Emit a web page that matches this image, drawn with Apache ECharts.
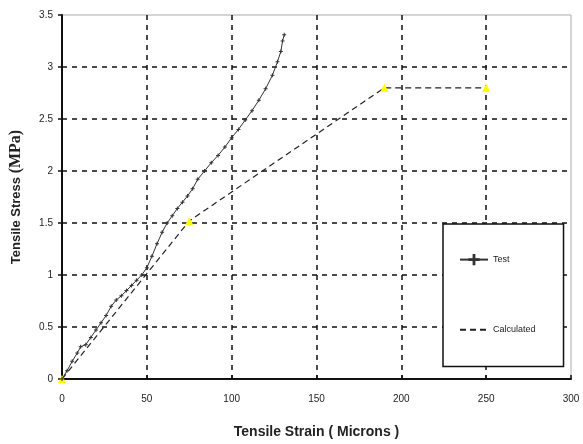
<!DOCTYPE html>
<html>
<head>
<meta charset="utf-8">
<script src="https://cdn.jsdelivr.net/npm/echarts@6/dist/echarts.min.js"></script>
<style>html,body{margin:0;padding:0;background:#fff}#c{width:583px;height:444px}</style>
</head>
<body>
<div id="c"></div>
<script>
var testX = [0,3,6,9,11,14,17,20,23,26,29,32,35,38,41,44,47,50,53,56,59,62,65,68,71,74,77,80,84,88,92,96,100,104,108,112,116,120,124,127,129,130,131];
var testY = [0,0.08,0.17,0.25,0.31,0.33,0.40,0.47,0.54,0.61,0.70,0.76,0.80,0.85,0.90,0.95,1.00,1.07,1.18,1.30,1.41,1.50,1.57,1.64,1.70,1.76,1.83,1.92,2.00,2.08,2.15,2.23,2.32,2.40,2.49,2.58,2.68,2.79,2.92,3.05,3.15,3.25,3.31];
var calcX = [0,75,190,250];
var calcY = [0,1.52,2.8,2.8];
var seriesNames = ['Test','Calculated'];

function pairs(xs, ys){ return xs.map(function(x,i){return [x, ys[i]];}); }

var chart = echarts.init(document.getElementById('c'), null, {renderer:'canvas'});
chart.setOption({
  animation:false,
  backgroundColor:'#fff',
  grid:{left:60,right:12,top:15,bottom:65,show:true,borderColor:'#aaa',borderWidth:1,backgroundColor:'transparent'},
  xAxis:{
    type:'value',min:0,max:300,interval:50,
    name:'Tensile Strain ( Microns )',nameLocation:'middle',nameGap:46,
    nameTextStyle:{fontFamily:'Liberation Sans',fontWeight:'bold',fontSize:14,color:'#222'},
    axisLine:{show:true,lineStyle:{color:'#111',width:2}},
    axisTick:{show:true,inside:true,length:4,lineStyle:{color:'#111',width:1.5}},
    axisLabel:{fontFamily:'Liberation Sans',fontSize:10,color:'#222',margin:15},
    splitLine:{show:true,showMinLine:false,showMaxLine:false,lineStyle:{color:'#111',type:[5,5],width:1.5}}
  },
  yAxis:{
    type:'value',min:0,max:3.5,interval:0.5,
    name:'{a|Tensile Stress }{b|(MPa)}',nameLocation:'middle',nameGap:38,nameRotate:90,
    nameTextStyle:{rich:{
      a:{fontFamily:'Liberation Sans',fontWeight:'bold',fontSize:13,color:'#222'},
      b:{fontFamily:'Liberation Serif',fontWeight:'bold',fontSize:16,color:'#222'}
    }},
    axisLine:{show:true,lineStyle:{color:'#111',width:2}},
    axisTick:{show:true,inside:false,length:4,lineStyle:{color:'#111',width:1.5}},
    axisLabel:{fontFamily:'Liberation Sans',fontSize:10,color:'#222',margin:9},
    splitLine:{show:true,showMinLine:false,showMaxLine:false,lineStyle:{color:'#111',type:[5,5],width:1.5}}
  },
  legend:{
    orient:'vertical',left:443,top:224,
    padding:[30,28,31,16],itemGap:59,itemWidth:28,itemHeight:14,
    borderColor:'#111',borderWidth:1.5,backgroundColor:'#fff',
    textStyle:{fontFamily:'Liberation Sans',fontSize:9,color:'#222'},
    data:[{name:'Test'},{name:'Calculated',itemStyle:{opacity:0}}]
  },
  series:[
    {name:seriesNames[0],type:'line',data:pairs(testX,testY),
     symbol:'path://M3,0h2v8h-2zM0,3h8v2h-8z',symbolSize:4,showSymbol:true,
     itemStyle:{color:'#333'},lineStyle:{color:'#333',width:1},z:3},
    {name:seriesNames[1],type:'line',data:pairs(calcX,calcY),
     symbol:'triangle',symbolSize:8,showSymbol:true,
     itemStyle:{color:'#ffff00'},lineStyle:{color:'#222',width:1.2,type:[6,4]},z:2}
  ]
});
</script>
</body>
</html>
